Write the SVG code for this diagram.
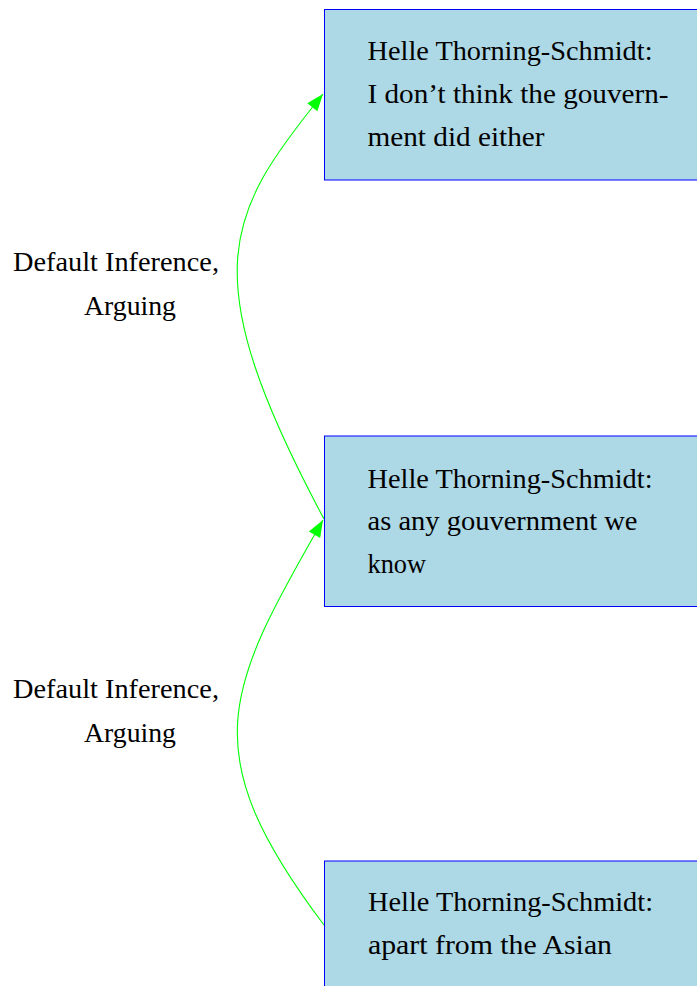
<svg xmlns="http://www.w3.org/2000/svg" width="697" height="986" viewBox="0 0 697 986">
<style>
.box{fill:#add8e6;stroke:#0000ff;stroke-width:1}
.t{font-family:"Liberation Serif","Times New Roman",serif;font-size:27px;fill:#000}
.edge{fill:none;stroke:#00ff00;stroke-width:1.1}
</style>
<defs>
<marker id="arr" markerUnits="userSpaceOnUse" markerWidth="20" markerHeight="16" viewBox="-18 -8 20 16" refX="0" refY="0" orient="auto">
<path d="M0,0 L-17,-6.5 L-17,6.5 Z" fill="#00ff00"/>
</marker>
</defs>
<rect width="697" height="986" fill="#fff"/>
<g id="connectors">
<path class="edge" d="M324,519 C192,272 226,214 323,94" marker-end="url(#arr)"/>
<path class="edge" d="M324,925 C194,752 224,692 323,520" marker-end="url(#arr)"/>
<g id="label1">
<text class="t" x="13" y="271" textLength="206" lengthAdjust="spacingAndGlyphs">Default Inference,</text>
<text class="t" x="84" y="315" textLength="92" lengthAdjust="spacingAndGlyphs">Arguing</text>
</g>
<g id="label2">
<text class="t" x="13" y="697.5" textLength="206" lengthAdjust="spacingAndGlyphs">Default Inference,</text>
<text class="t" x="84" y="742" textLength="92" lengthAdjust="spacingAndGlyphs">Arguing</text>
</g>
</g>
<g id="node1">
<rect class="box" x="324.5" y="9.5" width="400" height="170.5"/>
<text class="t" x="367.5" y="59.5" textLength="285" lengthAdjust="spacingAndGlyphs">Helle Thorning-Schmidt:</text>
<text class="t" x="367.5" y="103" textLength="301" lengthAdjust="spacingAndGlyphs">I don’t think the gouvern-</text>
<text class="t" x="367.5" y="145.5" textLength="177" lengthAdjust="spacingAndGlyphs">ment did either</text>
</g>
<g id="node2">
<rect class="box" x="324.5" y="436" width="400" height="170.5"/>
<text class="t" x="367.5" y="487.5" textLength="285" lengthAdjust="spacingAndGlyphs">Helle Thorning-Schmidt:</text>
<text class="t" x="367.5" y="530" textLength="270" lengthAdjust="spacingAndGlyphs">as any gouvernment we</text>
<text class="t" x="367.5" y="572.5" textLength="58.5" lengthAdjust="spacingAndGlyphs">know</text>
</g>
<g id="node3">
<rect class="box" x="324.5" y="861" width="400" height="170"/>
<text class="t" x="368" y="911" textLength="285" lengthAdjust="spacingAndGlyphs">Helle Thorning-Schmidt:</text>
<text class="t" x="368" y="954" textLength="244" lengthAdjust="spacingAndGlyphs">apart from the Asian</text>
</g>
</svg>
